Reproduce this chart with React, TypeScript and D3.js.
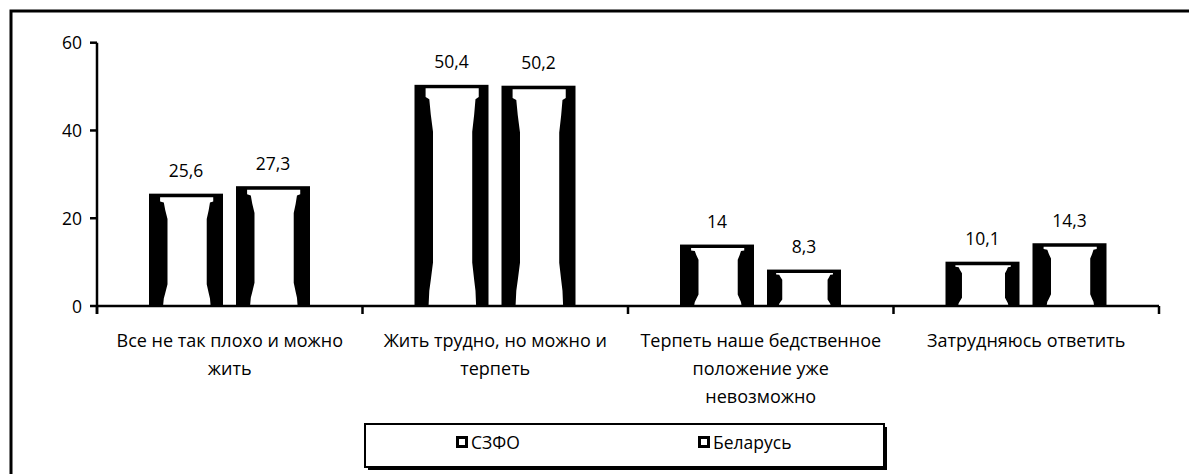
import React from "react";
import * as d3 from "d3";

const categories = [
  "Все не так плохо и можно жить",
  "Жить трудно, но можно и терпеть",
  "Терпеть наше бедственное положение уже невозможно",
  "Затрудняюсь ответить",
];
const categoryLines = [
  ["Все не так плохо и можно", "жить"],
  ["Жить трудно, но можно и", "терпеть"],
  ["Терпеть наше бедственное", "положение уже", "невозможно"],
  ["Затрудняюсь ответить"],
];
const seriesNames = ["СЗФО", "Беларусь"];
const szfoValues = [25.6, 50.4, 14, 10.1];
const belarusValues = [27.3, 50.2, 8.3, 14.3];
const yTicks = [0, 20, 40, 60];

const W = 1189;
const H = 474;
const FONT = "'Open Sans', 'Noto Sans', sans-serif";

const x = d3.scaleBand<string>().domain(categories).range([97, 1159]);
const xs = d3.scaleBand<string>().domain(seriesNames).range([52, 213]).paddingInner(0.1494);
const y = d3.scaleLinear().domain([0, 60]).range([306, 42.7]);

const fmt = (v: number) => String(v).replace(".", ",");

// profile of the white inner column (fraction of depth, fraction of width inset)
const profile: [number, number][] = [
  [0, 0.15], [0.04, 0.15], [0.05, 0.2], [0.12, 0.22], [0.2, 0.25], [0.8, 0.25],
  [0.88, 0.22], [0.93, 0.2], [1, 0.19],
];

function innerPath(x0: number, w: number, top: number, bottom: number) {
  const it = top + 3.5;
  const ih = bottom - it;
  const scale = Math.min(1, 0.55 + ih / 120);
  const left = profile.map(([t, f]) => [x0 + w * f * scale, it + t * ih] as [number, number]);
  const right = profile
    .slice()
    .reverse()
    .map(([t, f]) => [x0 + w - w * f * 0.88 * scale, it + t * ih] as [number, number]);
  return d3.line()([...left, ...right]) + "Z";
}

export default function App() {
  const series = [szfoValues, belarusValues];
  const bw = xs.bandwidth();
  const y0 = y(0);
  const bounds = [...categories.map((c) => x(c)!), 1159];
  return (
    <svg
      width={W}
      height={H}
      style={{ position: "absolute", left: 0, top: 0, background: "#fff" }}
      fontFamily={FONT}
    >
      <rect x={0} y={0} width={W} height={H} fill="#fff" />
      {/* outer frame */}
      <rect x={11} y={11} width={W + 20} height={H + 20} fill="none" stroke="#000" strokeWidth={3} />

      {/* bars */}
      {categories.map((c, ci) =>
        seriesNames.map((s, si) => {
          const v = series[si][ci];
          const bx = x(c)! + xs(s)!;
          const top = y(v);
          return (
            <g key={c + s}>
              <rect x={bx} y={top} width={bw} height={y0 - top} fill="#000" />
              <path d={innerPath(bx, bw, top, y0)} fill="#fff" />
              <text
                x={bx + bw / 2}
                y={top - 16.5}
                textAnchor="middle"
                fontSize={17.5}
                fill="#000"
              >
                {fmt(v)}
              </text>
            </g>
          );
        })
      )}

      {/* y axis */}
      <line x1={97} x2={97} y1={y(60)} y2={314} stroke="#000" strokeWidth={2.5} />
      {yTicks.map((t) => (
        <g key={t}>
          <line x1={90} x2={97} y1={y(t)} y2={y(t)} stroke="#000" strokeWidth={2.5} />
          <text x={82} y={y(t) + 6.5} textAnchor="end" fontSize={17.5} fill="#000">
            {t}
          </text>
        </g>
      ))}

      {/* x axis */}
      <line x1={97} x2={1159} y1={y0} y2={y0} stroke="#000" strokeWidth={2.5} />
      {bounds.map((b, i) => (
        <line key={i} x1={b} x2={b} y1={y0} y2={314} stroke="#000" strokeWidth={2.5} />
      ))}
      {categories.map((c, ci) => (
        <text key={c} textAnchor="middle" fontSize={18} fill="#000">
          {categoryLines[ci].map((ln, li) => (
            <tspan key={li} x={x(c)! + x.bandwidth() / 2} y={347 + li * 28}>
              {ln}
            </tspan>
          ))}
        </text>
      ))}

      {/* legend */}
      <rect x={368} y={427} width={519} height={43} fill="#000" />
      <rect x={365} y={424} width={519} height={43} fill="#fff" stroke="#000" strokeWidth={2} />
      {seriesNames.map((s, i) => {
        const lx = [456, 698][i];
        return (
          <g key={s}>
            <rect x={lx + 1.5} y={437.5} width={9} height={9} fill="#fff" stroke="#000" strokeWidth={3} />
            <text x={lx + 15} y={448.5} fontSize={17.5} fill="#000">
              {s}
            </text>
          </g>
        );
      })}
    </svg>
  );
}
